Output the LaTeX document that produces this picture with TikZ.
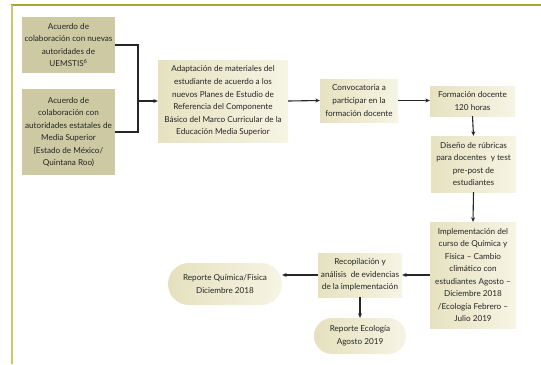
\documentclass[tikz,border=0pt]{standalone}
\usepackage{fontspec}
\setmainfont{Lato}
\usetikzlibrary{arrows.meta,shapes.misc}
\definecolor{khaki}{HTML}{CDC9A3}
\definecolor{lightk}{HTML}{E6E2C0}
\definecolor{paler}{HTML}{F6F4E4}
\definecolor{olive}{HTML}{A6A62C}
\definecolor{olivel}{HTML}{C8C864}
\definecolor{ink}{HTML}{262626}
\tikzset{
  base/.style={align=center, text=ink, font=\fontsize{8.2}{12.6}\selectfont, inner sep=1pt, draw=none},
  darkbox/.style={base, fill=khaki, minimum width=93bp},
  lightbox/.style={base, left color=lightk, right color=paler},
  roundbox/.style={base, rounded rectangle, left color=lightk!95!khaki, right color=paler},
  conn/.style={draw=ink, line width=1.1pt},
  arr/.style={conn, -{Stealth[length=4.5pt,width=4pt]}},
  framel/.style={line width=2pt}
}
\begin{document}
\begin{tikzpicture}[x=1bp,y=-1bp]
\useasboundingbox (0,0) rectangle (541,364);
\fill[white] (0,0) rectangle (541,364);
\draw[framel, olive] (11,5) -- (541,5);
\draw[framel, olivel] (12,5) -- (12,364);

\node[darkbox, minimum height=56bp] (b1) at (68.5,45) {Acuerdo de\\colaboración con nuevas\\autoridades de\\UEMSTIS\textsuperscript{6}};
\node[darkbox, minimum height=86bp] (b2) at (68.5,132) {Acuerdo de\\colaboración con\\autoridades estatales de\\Media Superior\\(Estado de México/\\Quintana Roo)};
\node[lightbox, minimum width=130bp, minimum height=82bp] (b3) at (223,101) {Adaptación de materiales del\\estudiante de acuerdo a los\\nuevos Planes de Estudio de\\Referencia del Componente\\Básico del Marco Curricular de la\\Educación Media Superior};
\node[lightbox, minimum width=78bp, minimum height=43bp] (b4) at (359,100.5) {Convocatoria a\\participar en la\\formación docente};
\node[lightbox, minimum width=85bp, minimum height=30bp] (b5) at (472.5,101) {Formación docente\\120 horas};
\node[lightbox, minimum width=85bp, minimum height=56bp] (b6) at (473.5,164) {Diseño de rúbricas\\para docentes~ y test\\pre-post de\\estudiantes};
\node[lightbox, minimum width=86bp, minimum height=106bp] (b7) at (473,275) {Implementación del\\curso de Química y\\Física – Cambio\\climático con\\estudiantes Agosto –\\Diciembre 2018\\/Ecología Febrero –\\Julio 2019};
\node[lightbox, minimum width=84bp, minimum height=44bp] (b8) at (360,275) {Recopilación y\\análisis~ de evidencias\\de la implementación};
\node[roundbox, minimum width=116bp, minimum height=42bp] (b9) at (225,284) {Reporte Química/Física\\Diciembre 2018};
\node[roundbox, minimum width=94bp, minimum height=36bp] (b10) at (360,336) {Reporte Ecología\\Agosto 2019};

\coordinate (j) at (138,101);
\draw[conn] (b1.east) -| (j);
\draw[conn] (b2.east) -| (j);
\draw[arr] (j) -- (b3.west);
\draw[arr] (b3.east) -- (b4.west);
\draw[arr] (b4.east) -- (b4.east -| b5.west);
\draw[arr] (b5.south) -- (b6.north);
\draw[arr] (b6.south) -- (b7.north);
\draw[arr] (b7.west) -- (b8.east);
\draw[arr] (b8.west) -- (b8.west -| b9.east);
\draw[arr] (b8.south) -- (b10.north);
\end{tikzpicture}
\end{document}
